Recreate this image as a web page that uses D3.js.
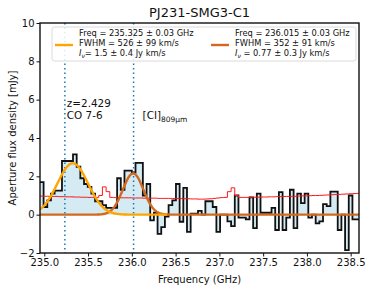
<!DOCTYPE html>
<html>
<head>
<meta charset="utf-8">
<script src="https://cdn.jsdelivr.net/npm/d3@7"></script>
<style>
  body { margin: 0; background: #fff; }
  svg { font-family: "DejaVu Sans", sans-serif; }
</style>
</head>
<body>
<div id="chart"></div>
<script>
// spectrum channels (GHz), first channel edge + width
const chanStart = 234.95;
const chanWidth = 0.042;

// aperture flux density per channel (mJy)
const flux = [1.7, 0.4, 0.75, 1.1, 1.25, 1.25, 2.8, 2.8, 2.8, 3.15,
  2.5, 1.9, 1.6, 1.45, 1.1, 0.7, 0.7, 0.5, 0.35, 0.35,
  0.35, 1.9, 1.3, 2.3, 2.3, 2.2, 2.7, 2.7, 1.0, 1.6,
  -0.3, 0.1, -1.0, -0.65, -0.1, 0.5, 0.75, 1.6, -0.37, 1.4,
  -0.9, 0.05, 0.05, 0.2, 0, 0.7, 0.7, 0.4, -0.9, 0,
  0, -0.35, -0.6, 1.0, -0.15, -0.15, -0.25, 0.9, -0.7, 1.1,
  0.1, 0.1, 0.1, 0.35, -0.8, 1.18, -0.8, -0.15, 1.3, -0.7,
  1.1, 0.6, 1.1, -0.15, 0, -0.45, -0.35, 0.55, 0.45, 1.2,
  1.2, -0.8, 0, -1.85, 1.0, -0.25, -0.25];

// rms noise per channel (mJy)
const noise = [0.97, 0.96, 0.96, 0.95, 0.95, 0.94, 0.94, 0.93, 0.93, 0.92,
  0.92, 0.91, 0.91, 0.9, 0.9, 0.9, 1.0, 1.45, 1.2, 0.9,
  0.89, 0.89, 0.88, 0.88, 0.88, 0.87, 0.87, 0.87, 0.86, 0.86,
  0.86, 0.86, 0.85, 0.85, 0.85, 0.85, 0.84, 0.84, 0.84, 0.83,
  0.83, 0.82, 0.82, 0.81, 0.81, 0.82, 0.83, 0.85, 0.87, 0.89,
  0.9, 1.2, 1.4, 1.0, 0.9, 0.9, 0.9, 0.91, 0.91, 0.91,
  0.92, 0.92, 0.93, 0.93, 0.94, 0.94, 0.95, 0.95, 0.96, 0.96,
  0.97, 0.98, 0.98, 0.99, 1.0, 1.0, 1.01, 1.02, 1.03, 1.04,
  1.05, 1.06, 1.07, 1.08, 1.09, 1.1, 1.11];

// gaussian fits: centre (GHz), FWHM (km/s), peak (mJy)
const fitNames = ["CO", "CI"];
const fitFreq = [235.325, 236.015];
const fitFwhm = [526, 352];
const fitPeak = [2.68, 2.15];
const fitRange = [[234.95, 236.4], [234.95, 238.6]];
const fitColors = ["#ffa500", "#d2691e"];
const fitLegend = [
  ["Freq = 235.325 ± 0.03 GHz", "FWHM = 526 ± 99 km/s", "= 1.5 ± 0.4 Jy km/s"],
  ["Freq = 236.015 ± 0.03 GHz", "FWHM = 352 ± 91 km/s", " = 0.77 ± 0.3 Jy km/s"]
];

// line markers
const lineFreq = [235.235, 236.02];
const xTicks = [235.0, 235.5, 236.0, 236.5, 237.0, 237.5, 238.0, 238.5];
const yTicks = [-2, 0, 2, 4, 6, 8, 10];

const W = 374, H = 289;
const margin = {top: 23, right: 15, bottom: 36, left: 40};
const width = W - margin.left - margin.right;
const height = H - margin.top - margin.bottom;

const svg = d3.select("#chart").append("svg")
  .attr("width", W).attr("height", H);

const x = d3.scaleLinear().domain([234.951, 238.595]).range([0, width]);
const y = d3.scaleLinear().domain([-2, 10]).range([height, 0]);

const g = svg.append("g").attr("transform", `translate(${margin.left},${margin.top})`);

g.append("clipPath").attr("id", "clip")
  .append("rect").attr("width", width).attr("height", height);

const plot = g.append("g").attr("clip-path", "url(#clip)");

// step points: one per channel edge, last value repeated
const steps = flux.map((v, i) => ({f: chanStart + i * chanWidth, v}));
steps.push({f: chanStart + flux.length * chanWidth, v: flux[flux.length - 1]});
const nsteps = noise.map((v, i) => ({f: chanStart + i * chanWidth, v}));
nsteps.push({f: chanStart + noise.length * chanWidth, v: noise[noise.length - 1]});

plot.append("path")
  .datum(steps)
  .attr("fill", "#d4ebf4")
  .attr("d", d3.area().curve(d3.curveStepAfter)
    .x(d => x(d.f)).y0(y(0)).y1(d => y(d.v)));

plot.append("path")
  .datum(steps)
  .attr("fill", "none")
  .attr("stroke", "#111")
  .attr("stroke-width", 1.8)
  .attr("d", d3.line().curve(d3.curveStepAfter).x(d => x(d.f)).y(d => y(d.v)));

plot.append("path")
  .datum(nsteps)
  .attr("fill", "none")
  .attr("stroke", "#ff1a1a")
  .attr("stroke-width", 1)
  .attr("d", d3.line().curve(d3.curveStepAfter).x(d => x(d.f)).y(d => y(d.v)));

// dotted line markers
plot.selectAll(".mark")
  .data(lineFreq)
  .join("line")
  .attr("x1", d => x(d)).attr("x2", d => x(d))
  .attr("y1", 0).attr("y2", height)
  .attr("stroke", "#1f77b4")
  .attr("stroke-width", 1.5)
  .attr("stroke-dasharray", "1.5,3");

// gaussian models, CI first so the CO baseline sits on top
[1, 0].forEach(k => {
  const sigma = fitFwhm[k] / 299792.458 * fitFreq[k] / 2.3548;
  const pts = d3.range(fitRange[k][0], fitRange[k][1], 0.005).map(f => ({
    f, v: fitPeak[k] * Math.exp(-((f - fitFreq[k]) ** 2) / (2 * sigma * sigma))
  }));
  plot.append("path")
    .datum(pts)
    .attr("fill", "none")
    .attr("stroke", fitColors[k])
    .attr("stroke-width", 2.4)
    .attr("d", d3.line().x(d => x(d.f)).y(d => y(d.v)));
});

// line labels
const lbl = g.append("g").style("font-size", "10.4px").attr("fill", "#111");
lbl.append("text").attr("x", x(lineFreq[0]) + 2).attr("y", 84).text("z=2.429");
lbl.append("text").attr("x", x(lineFreq[0]) + 2).attr("y", 96).text("CO 7-6");
const ci = lbl.append("text").attr("x", x(lineFreq[1]) + 9).attr("y", 96);
ci.append("tspan").text("[CI]");
ci.append("tspan").attr("dy", 2.5).style("font-size", "7.5px").text("809μm");

// axes
const xAxis = g.append("g")
  .attr("transform", `translate(0,${height})`)
  .call(d3.axisBottom(x).tickValues(xTicks).tickFormat(d3.format(".1f")).tickSize(3.5).tickPadding(2));
const yAxis = g.append("g")
  .call(d3.axisLeft(y).tickValues(yTicks).tickSize(3.5).tickPadding(2));
[xAxis, yAxis].forEach(a => {
  a.select(".domain").remove();
  a.selectAll("text").style("font-size", "10px").attr("fill", "#111")
    .style("font-family", "DejaVu Sans");
  a.selectAll("line").attr("stroke", "#111");
});

g.append("rect")
  .attr("width", width).attr("height", height)
  .attr("fill", "none").attr("stroke", "#111").attr("stroke-width", 1.4);

// legend
const leg = g.append("g");
leg.append("rect")
  .attr("x", 12).attr("y", 4).attr("width", 304).attr("height", 34)
  .attr("rx", 2.5)
  .attr("fill", "#fff").attr("fill-opacity", 0.85)
  .attr("stroke", "#d0d0d0").attr("stroke-width", 0.8);

const legX = [15, 171];
fitNames.forEach((name, k) => {
  const lg = leg.append("g").attr("transform", `translate(${legX[k]},0)`)
    .style("font-size", "8.3px").attr("fill", "#111");
  lg.append("line")
    .attr("x1", 0).attr("x2", 18).attr("y1", 22).attr("y2", 22)
    .attr("stroke", fitColors[k]).attr("stroke-width", 2.4);
  lg.append("text").attr("x", 24).attr("y", 13).text(fitLegend[k][0]);
  lg.append("text").attr("x", 24).attr("y", 23).text(fitLegend[k][1]);
  const t = lg.append("text").attr("x", 24).attr("y", 33);
  t.append("tspan").style("font-style", "italic").text("I");
  t.append("tspan").attr("dy", 1.8).style("font-size", "6px").style("font-style", "italic").text("ν");
  t.append("tspan").attr("dy", -1.8).text(fitLegend[k][2]);
});

// title and axis labels
svg.append("text")
  .attr("x", margin.left + width / 2).attr("y", 17)
  .attr("text-anchor", "middle").style("font-size", "13px").attr("fill", "#111")
  .text("PJ231-SMG3-C1");

svg.append("text")
  .attr("x", margin.left + width / 2).attr("y", 283)
  .attr("text-anchor", "middle").style("font-size", "10px").attr("fill", "#111")
  .text("Frequency (GHz)");

svg.append("text")
  .attr("transform", `translate(16,${margin.top + height / 2}) rotate(-90)`)
  .attr("text-anchor", "middle").style("font-size", "10px").attr("fill", "#111")
  .text("Aperture flux density [mJy]");
</script>
</body>
</html>
